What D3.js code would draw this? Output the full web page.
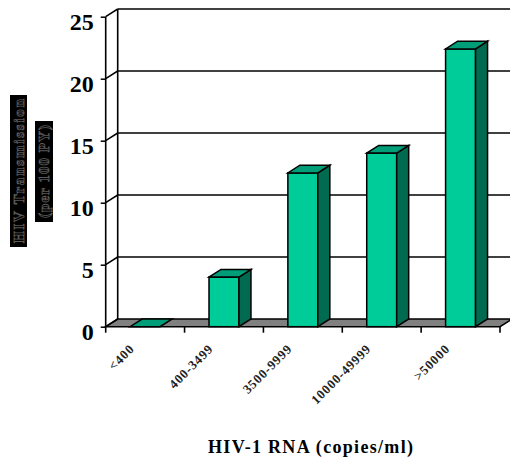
<!DOCTYPE html>
<html>
<head>
<meta charset="utf-8">
<script src="https://cdn.jsdelivr.net/npm/d3@7"></script>
<style>
  body { margin: 0; background: #fff; }
  svg { display: block; }
</style>
</head>
<body>
<svg width="510" height="459"></svg>
<script>
// data
var categories = ["<400", "400-3499", "3500-9999", "10000-49999", ">50000"];
var values = [0, 4.0, 12.4, 14.0, 22.4];
var yTicks = [0, 5, 10, 15, 20, 25];
var yTitle = ["HIV Transmission", "(per 100 PY)"];
var xTitle = "HIV-1 RNA (copies/ml)";

var depth = {x: 12, y: -7.7};   // 3d offset of the back wall
var svg = d3.select("svg");

var xScale = d3.scaleBand()
    .domain(categories)
    .range([105.7, 500])
    .paddingInner(0.62)
    .paddingOuter(0.31);

var yScale = d3.scaleLinear()
    .domain([0, 25])
    .range([326.7, 16.7]);

var step = xScale.step();
var x0 = xScale.range()[0], x1 = xScale.range()[1];
var y0 = yScale(0);

function pts(a) {
    return a.map(function (p) { return p.join(","); }).join(" ");
}

// floor
svg.append("polygon")
    .attr("points", pts([[x0, y0], [x1, y0], [x1 + depth.x, y0 + depth.y], [x0 + depth.x, y0 + depth.y]]))
    .attr("fill", "#808080")
    .attr("stroke", "#000")
    .attr("stroke-width", 1.5);

// back wall gridlines
svg.selectAll(".grid")
    .data(yTicks.filter(function (d) { return d > 0; }))
    .enter().append("line")
    .attr("class", "grid")
    .attr("x1", x0 + depth.x)
    .attr("x2", 515)
    .attr("y1", function (d) { return yScale(d) + depth.y; })
    .attr("y2", function (d) { return yScale(d) + depth.y; })
    .attr("stroke", "#000")
    .attr("stroke-width", 1.6);

// back wall left edge
svg.append("line")
    .attr("x1", x0 + depth.x).attr("x2", x0 + depth.x)
    .attr("y1", yScale(25) + depth.y).attr("y2", y0 + depth.y)
    .attr("stroke", "#000").attr("stroke-width", 1.6);

// side wall diagonals at each tick
svg.selectAll(".diag")
    .data(yTicks)
    .enter().append("line")
    .attr("class", "diag")
    .attr("x1", x0).attr("x2", x0 + depth.x)
    .attr("y1", function (d) { return yScale(d); })
    .attr("y2", function (d) { return yScale(d) + depth.y; })
    .attr("stroke", "#000")
    .attr("stroke-width", 1.5);

// front y axis
var yAxis = svg.append("g")
    .attr("transform", "translate(" + x0 + ",0)")
    .call(d3.axisLeft(yScale).tickValues(yTicks).tickSize(5).tickPadding(7));
yAxis.select(".domain").attr("stroke", "#000").attr("stroke-width", 1.6)
    .attr("d", "M0," + yScale(25) + "V" + y0);
yAxis.selectAll(".tick line").attr("stroke", "#000").attr("stroke-width", 1.5);
yAxis.selectAll(".tick text")
    .attr("font-family", "'Liberation Serif', 'Times New Roman', serif")
    .attr("font-weight", "bold")
    .attr("font-size", 24)
    .attr("fill", "#000")
    .attr("dy", "0.55em");

// bars
var bars = svg.selectAll(".bar")
    .data(values)
    .enter().append("g")
    .attr("class", "bar");

bars.each(function (d, i) {
    var g = d3.select(this);
    var bx = xScale(categories[i]), bw = xScale.bandwidth();
    var top = yScale(d);
    if (d > 0) {
        g.append("rect")
            .attr("x", bx).attr("y", top)
            .attr("width", bw).attr("height", y0 - top)
            .attr("fill", "#00CC99")
            .attr("stroke", "#000").attr("stroke-width", 1.5);
        g.append("polygon")
            .attr("points", pts([[bx + bw, top], [bx + bw + depth.x, top + depth.y],
                [bx + bw + depth.x, y0 + depth.y], [bx + bw, y0]]))
            .attr("fill", "#006B50")
            .attr("stroke", "#000").attr("stroke-width", 1.5);
    }
    g.append("polygon")
        .attr("points", pts([[bx, top], [bx + bw, top], [bx + bw + depth.x, top + depth.y], [bx + depth.x, top + depth.y]]))
        .attr("fill", "#009E78")
        .attr("stroke", "#000").attr("stroke-width", 1.5);
});

// front x axis ticks at category boundaries
svg.selectAll(".xtick")
    .data(d3.range(categories.length + 1))
    .enter().append("line")
    .attr("class", "xtick")
    .attr("x1", function (i) { return x0 + i * step; })
    .attr("x2", function (i) { return x0 + i * step; })
    .attr("y1", y0)
    .attr("y2", y0 + 6)
    .attr("stroke", "#000")
    .attr("stroke-width", 1.6);

// category labels, rotated
svg.selectAll(".xlabel")
    .data(categories)
    .enter().append("text")
    .attr("class", "xlabel")
    .attr("transform", function (d) {
        return "translate(" + (xScale(d) + xScale.bandwidth() / 2 - 10) + "," + (y0 + 23) + ") rotate(-45)";
    })
    .attr("text-anchor", "end")
    .attr("font-family", "'Liberation Serif', 'Times New Roman', serif")
    .attr("font-weight", "bold")
    .attr("font-size", 13)
    .attr("letter-spacing", 0.8)
    .attr("fill", "#222")
    .text(function (d) { return d; });

// y title: dark boxes with outlined text
var boxes = [{x: 10, y: 95, w: 17, h: 152}, {x: 35, y: 121, w: 18, h: 101}];
boxes.forEach(function (b, i) {
    svg.append("rect")
        .attr("x", b.x).attr("y", b.y)
        .attr("width", b.w).attr("height", b.h)
        .attr("fill", "#000");
    svg.append("text")
        .attr("transform", "translate(" + (b.x + b.w / 2 + 5) + "," + (b.y + b.h / 2) + ") rotate(-90)")
        .attr("text-anchor", "middle")
        .attr("font-family", "'Liberation Serif', 'Times New Roman', serif")
        .attr("font-weight", "bold")
        .attr("font-size", 15)
        .attr("textLength", b.h - 8)
        .attr("fill", "#000")
        .attr("stroke", "#5a5a5a")
        .attr("stroke-width", 0.8)
        .text(yTitle[i]);
});

// x title
svg.append("text")
    .attr("x", 310.5)
    .attr("y", 453)
    .attr("text-anchor", "middle")
    .attr("font-family", "'Liberation Serif', 'Times New Roman', serif")
    .attr("font-weight", "bold")
    .attr("font-size", 18)
    .attr("textLength", 205)
    .attr("fill", "#000")
    .text(xTitle);
</script>
</body>
</html>
